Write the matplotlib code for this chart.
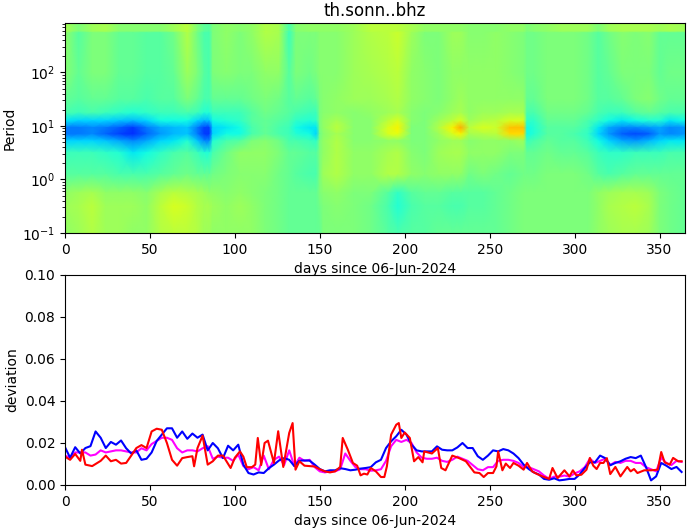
import numpy as np
import matplotlib
matplotlib.use("Agg")
import matplotlib.pyplot as plt
from matplotlib.colors import FuncNorm

W, H = 690, 531

# heat map: column days and log10(period) rows, colour value on a jet-like scale
hm_days = [0,8,16,24,32,40,48,56,64,72, 78,82,85,87,95,103,110,118,126,132,
           136,144,148,150,152,160,170,180,190,196, 204,212,220,228,233,238,246,254,262,270,
           272,276,284,292,300,308,314,320,328,336, 344,350,356,365]
hm_logp = [2.925,2.77,2.74,2.0,1.5,1.25,1.1,.97,.85,.72,.5,.1,-.25,-.5,-1]
r00 = [.58,.50,.56,.58,.52,.52,.52,.52,.56,.62, .50,.45,.44,.50,.54,.52,.54,.60,.58,.42, .52,.54,.54,.54,.54,.54,.56,.62,.62,.62, .58,.54,.54,.54,.54,.52,.52,.52,.54,.54, .50,.52,.54,.56,.56,.56,.50,.56,.58,.58, .58,.56,.58,.56]
r00b = [.58,.50,.56,.58,.52,.52,.52,.52,.56,.62, .50,.45,.44,.50,.54,.52,.54,.60,.58,.42, .52,.54,.54,.54,.54,.54,.56,.62,.62,.62, .58,.54,.54,.54,.54,.52,.52,.52,.54,.54, .50,.52,.54,.56,.56,.56,.50,.56,.58,.58, .58,.56,.58,.56]
r01 = [.54,.44,.50,.50,.46,.46,.44,.44,.48,.60, .48,.42,.42,.50,.54,.50,.54,.60,.58,.40, .50,.50,.50,.52,.52,.52,.56,.60,.62,.64, .56,.50,.50,.56,.56,.52,.52,.54,.52,.50, .48,.48,.50,.50,.50,.48,.44,.48,.52,.50, .52,.46,.46,.46]
r02 = [.52,.46,.50,.50,.46,.46,.44,.44,.46,.56, .50,.44,.42,.50,.52,.50,.50,.54,.54,.44, .50,.48,.50,.52,.52,.52,.56,.58,.60,.62, .54,.52,.50,.54,.54,.54,.54,.54,.52,.50, .48,.48,.50,.50,.50,.48,.44,.46,.50,.50, .50,.46,.48,.48]
r03 = [.46,.44,.46,.46,.44,.44,.42,.44,.44,.50, .46,.42,.42,.46,.46,.46,.48,.50,.48,.44, .46,.44,.46,.50,.52,.54,.56,.56,.58,.60, .54,.52,.50,.54,.56,.54,.54,.54,.54,.54, .46,.46,.50,.50,.50,.48,.44,.44,.46,.50, .52,.48,.46,.46]
r04 = [.42,.40,.42,.40,.38,.36,.38,.40,.40,.42, .40,.36,.36,.40,.40,.40,.44,.48,.46,.44, .42,.40,.40,.50,.52,.54,.52,.54,.56,.58, .52,.50,.52,.56,.58,.54,.56,.56,.58,.58, .42,.42,.48,.48,.48,.46,.42,.40,.40,.44, .46,.44,.42,.42]
r05 = [.32,.30,.30,.30,.28,.26,.30,.34,.34,.34, .30,.26,.28,.34,.36,.38,.44,.46,.44,.42, .38,.36,.38,.50,.54,.58,.52,.52,.62,.66, .52,.50,.56,.62,.66,.56,.60,.62,.66,.66, .38,.38,.46,.46,.46,.42,.38,.34,.32,.34, .36,.36,.32,.34]
r06 = [.18,.18,.20,.18,.15,.10,.18,.24,.26,.28, .18,.12,.12,.30,.32,.34,.42,.46,.42,.40, .34,.32,.32,.50,.54,.62,.52,.52,.66,.70, .50,.50,.60,.70,.76,.62,.66,.64,.74,.74, .34,.36,.44,.44,.44,.40,.32,.24,.20,.20, .22,.24,.20,.22]
r07 = [.18,.18,.20,.16,.12,.08,.16,.22,.26,.28, .18,.10,.10,.30,.34,.34,.42,.46,.42,.40, .36,.34,.30,.48,.52,.58,.52,.52,.66,.68, .50,.50,.56,.66,.70,.58,.60,.62,.72,.72, .34,.36,.44,.44,.42,.38,.30,.22,.15,.13, .15,.22,.20,.22]
r08 = [.30,.30,.30,.28,.24,.20,.24,.30,.32,.36, .28,.20,.20,.36,.42,.44,.50,.52,.48,.42, .42,.40,.38,.50,.54,.60,.52,.52,.54,.54, .50,.50,.54,.56,.56,.52,.54,.54,.54,.56, .40,.42,.46,.44,.44,.40,.34,.30,.24,.22, .26,.30,.32,.32]
r09 = [.40,.40,.40,.38,.36,.32,.34,.38,.42,.44, .40,.36,.36,.42,.48,.54,.54,.54,.50,.46, .46,.44,.44,.50,.54,.60,.54,.54,.58,.60, .52,.50,.56,.58,.58,.54,.54,.54,.50,.50, .46,.46,.48,.46,.46,.44,.40,.38,.38,.40, .40,.40,.42,.42]
r10 = [.44,.44,.44,.44,.42,.42,.42,.44,.46,.48, .46,.46,.46,.48,.50,.52,.52,.52,.48,.46, .44,.42,.42,.50,.56,.60,.54,.54,.60,.60, .54,.52,.54,.54,.54,.48,.50,.48,.46,.48, .48,.48,.50,.50,.50,.48,.44,.42,.44,.46, .46,.46,.46,.46]
r11 = [.54,.56,.58,.54,.54,.54,.52,.58,.62,.60, .58,.56,.54,.54,.52,.54,.52,.50,.48,.46, .46,.46,.46,.50,.52,.54,.50,.50,.44,.38, .44,.46,.46,.44,.44,.44,.44,.46,.48,.50, .50,.50,.50,.50,.50,.50,.54,.56,.58,.58, .56,.50,.48,.46]
r12 = [.56,.58,.62,.56,.56,.56,.54,.62,.66,.64, .60,.58,.58,.56,.54,.56,.54,.50,.48,.46, .46,.46,.46,.48,.50,.52,.50,.48,.42,.36, .42,.44,.44,.42,.42,.44,.44,.46,.48,.50, .50,.50,.50,.50,.50,.50,.54,.58,.60,.62, .58,.50,.48,.46]
r13 = [.54,.56,.60,.56,.56,.54,.54,.60,.62,.62, .60,.56,.56,.54,.54,.54,.54,.50,.48,.46, .46,.46,.46,.46,.50,.50,.50,.48,.44,.42, .44,.44,.46,.46,.46,.46,.46,.46,.48,.50, .50,.50,.50,.50,.50,.50,.54,.56,.58,.58, .56,.50,.48,.46]
hm_rows = [r00,r00b,r01,r02,r03,r04,r05,r06,r07,r08,r09,r10,r11,r12,r13]

# deviation curves
line_days = list(range(0, 364, 3))
blue_vals = [.018,.013,.018,.015,.0176,.0185,.0255,.0225,.0176,.0205,.0192,.0212,.0175,.015,.0165,.012,.0125,.0155,.021,.024,.027,.027,.0225,.0255,.022,.0245,.0225,.024,.0165,.02,.0175,
             .0128,.0187,.0165,.0192,.0097,.0057,.005,.006,.0057,.008,.0097,.0117,.0128,.012,.009,.0116,.0117,.0116,.0097,.0076,.0065,.007,.007,.008,.0076,.007,.0073,.0078,.0081,.0085,
             .0108,.012,.0176,.0208,.0232,.0263,.024,.0192,.0165,.016,.016,.016,.0184,.0168,.0165,.0165,.0179,.02,.0176,.0176,.0137,.012,.014,.0165,.016,.0171,.0165,.015,.0128,.0097,.0076,
             .006,.005,.0029,.0025,.0032,.0022,.0025,.0029,.0029,.005,.0081,.0108,.0108,.014,.0128,.0094,.0105,.0113,.0125,.0133,.0128,.014,.0086,.0022,.0041,.0105,.0092,.0076,.0086,.0062]
magenta_vals = [.014,.013,.0155,.0155,.0155,.014,.0145,.0165,.0155,.016,.0165,.0165,.016,.0155,.0155,.0175,.0165,.0195,.021,.0225,.0225,.0215,.0175,.0155,.0165,.0165,.016,.0175,.0185,.0125,.0135,
                .013,.013,.0115,.0145,.009,.0075,.0085,.007,.014,.0075,.012,.0135,.0095,.0165,.009,.013,.0115,.012,.0085,.0065,.006,.0065,.0065,.0075,.015,.0115,.0085,.0075,.0075,.0068,
                .007,.0075,.0115,.0185,.0215,.0205,.0215,.02,.0155,.013,.0125,.0125,.013,.0115,.011,.012,.0135,.0125,.0115,.0095,.0075,.007,.0085,.0085,.0115,.012,.012,.0115,.0105,.0085,.0085,
                .0075,.0065,.0045,.003,.004,.004,.0045,.004,.0055,.0065,.0085,.0125,.0105,.0115,.0125,.0095,.011,.0105,.0115,.0115,.0105,.0105,.0085,.0075,.0065,.013,.0105,.0095,.0115,.011]
red_days = [0,3,6,9,10,12,16,18,21,24,27,30,33,36,39,42,45,48,51,54,57,60,63,66,69,72,75,76,78,81,84,87,90,93,97.5,100,103,105,107,110,112,113.5,115.5,117.5,119.5,123,125.5,128.5,132,134,135.7,138,141,144,147,150,153,156,159,162,163.5,166.5,169.5,172,174,176,178,180,183,186,188,189.5,192,195,196.5,198,200,203,205.5,208,210.5,211.5,216,219.5,221.5,224,228,232,236,241,244,246.5,249,252,254,255,257.5,259.5,262,264,267,270,272,275,278,282,285,287,290,294,297,299,301,304,307,309,311,313,315,317,319,321,324,327,331,333,335,337,341,345,349,351,353,356,358,361,363]
red_vals = [.0135,.012,.0148,.0115,.0168,.0097,.009,.01,.0115,.014,.0113,.012,.0102,.0105,.014,.0176,.019,.0176,.0255,.0268,.0263,.02,.012,.0092,.0128,.0133,.0137,.0089,.0176,.0235,.0097,.0113,.014,.014,.0081,.013,.016,.0135,.0085,.0085,.0097,.0224,.0095,.02,.0211,.0105,.0256,.0086,.0248,.0295,.0073,.0113,.0092,.009,.0088,.0075,.0065,.006,.0065,.0086,.0224,.0168,.0105,.0092,.0046,.0054,.005,.0081,.0065,.0038,.0038,.0089,.024,.0287,.0295,.0224,.025,.0224,.0113,.0133,.0108,.016,.015,.0176,.0081,.007,.014,.0128,.0113,.006,.0057,.0038,.0057,.0057,.0089,.016,.007,.0102,.0081,.0105,.0092,.0073,.0105,.0065,.0052,.0038,.0029,.0081,.0033,.007,.0041,.007,.0046,.0049,.0073,.0129,.0092,.0076,.0105,.0105,.0128,.0052,.0086,.0041,.0086,.0065,.0076,.0057,.007,.007,.0073,.0157,.0108,.0097,.0129,.0113,.0113]

fig = plt.figure(figsize=(W/100, H/100), dpi=100)

def box(l, t, r, b):
    return [l/W, 1-b/H, (r-l)/W, (b-t)/H]

_in = [-.1, 0, .05, .12, .2, .3, .38, .44, .5, .56, .62, .7, .76, 1]
_out = [0, .12, .155, .19, .26, .335, .41, .455, .5, .54, .575, .65, .73, 1]
norm = FuncNorm((lambda v: np.interp(v, _in, _out), lambda v: np.interp(v, _out, _in)), vmin=-.1, vmax=1)

ax1 = fig.add_axes(box(65, 23, 685, 233))
X, Y = np.meshgrid(hm_days, 10.0**np.array(hm_logp))
ax1.pcolormesh(X, Y, np.array(hm_rows), cmap="jet", norm=norm, shading="gouraud")
ax1.set_yscale("log")
ax1.set_xlim(0, 365)
ax1.set_ylim(0.1, 10**2.925)
ax1.set_xlabel("days since 06-Jun-2024", labelpad=4)
ax1.set_ylabel("Period", labelpad=4)
ax1.set_title("th.sonn..bhz", pad=5)

ax2 = fig.add_axes(box(65, 275, 685, 485))
ax2.plot(line_days, magenta_vals, color="magenta", lw=1.5)
ax2.plot(line_days, blue_vals, color="blue", lw=1.5)
ax2.plot(red_days, red_vals, color="red", lw=1.5)
ax2.set_xlim(0, 365)
ax2.set_ylim(0, 0.1)
ax2.set_xlabel("days since 06-Jun-2024", labelpad=4)
ax2.set_ylabel("deviation", labelpad=4)

fig.savefig("out.png", dpi=100)
